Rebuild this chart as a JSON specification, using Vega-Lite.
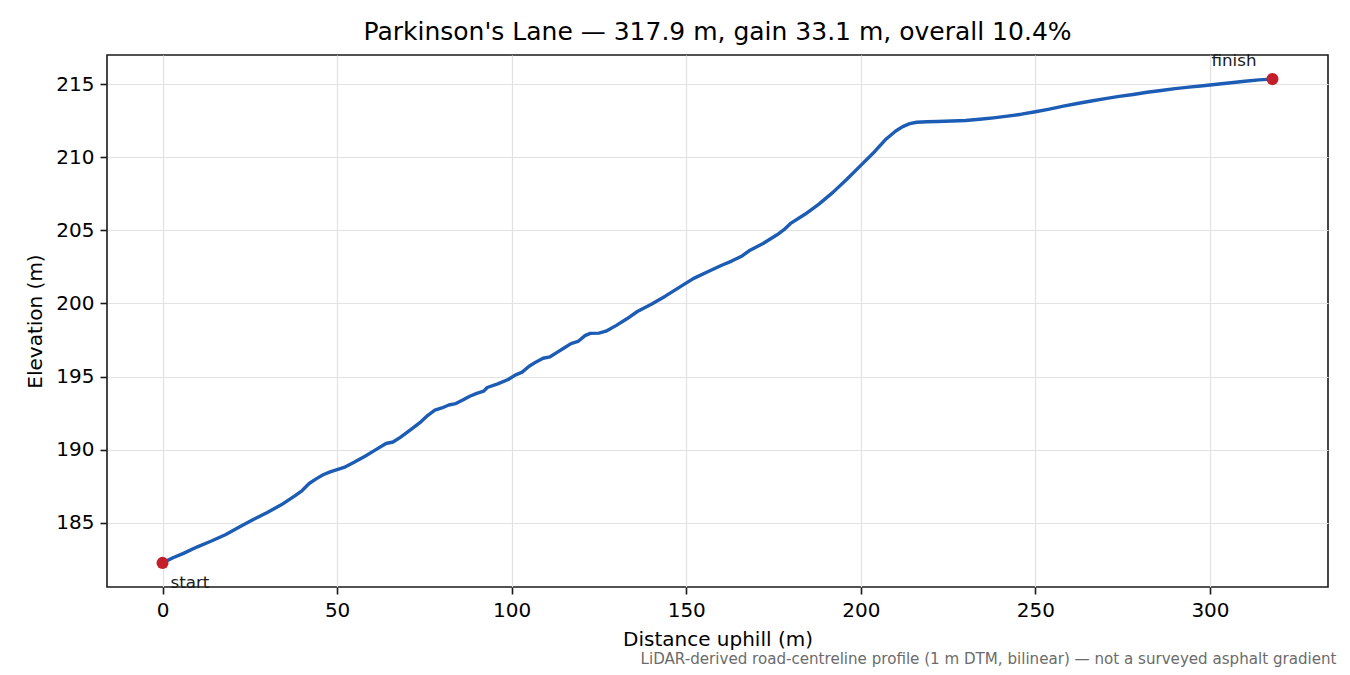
{
  "$schema": "https://vega.github.io/schema/vega-lite/v6.json",
  "autosize": {"type": "none"},
  "width": 1221,
  "height": 532,
  "padding": {"left": 107, "top": 55, "right": 22, "bottom": 88},
  "background": "white",
  "title": {
    "text": "Parkinson's Lane — 317.9 m, gain 33.1 m, overall 10.4%",
    "fontSize": 25,
    "fontWeight": "normal",
    "font": "DejaVu Sans",
    "color": "black",
    "anchor": "middle",
    "offset": 8
  },
  "datasets": {
    "profile": [
      {"d": 0, "e": 182.25}, {"d": 3, "e": 182.6}, {"d": 6, "e": 182.9},
      {"d": 10, "e": 183.35}, {"d": 14, "e": 183.75}, {"d": 18, "e": 184.18},
      {"d": 22, "e": 184.7}, {"d": 26, "e": 185.22}, {"d": 30, "e": 185.7},
      {"d": 34, "e": 186.22}, {"d": 38, "e": 186.85}, {"d": 40, "e": 187.2},
      {"d": 42, "e": 187.68}, {"d": 44, "e": 188.0}, {"d": 46, "e": 188.28},
      {"d": 48, "e": 188.48}, {"d": 50, "e": 188.63}, {"d": 52, "e": 188.78},
      {"d": 55, "e": 189.15}, {"d": 58, "e": 189.55}, {"d": 61, "e": 189.98},
      {"d": 64, "e": 190.42}, {"d": 66, "e": 190.52}, {"d": 68, "e": 190.82},
      {"d": 71, "e": 191.35}, {"d": 74, "e": 191.9}, {"d": 76, "e": 192.35},
      {"d": 78, "e": 192.7}, {"d": 80, "e": 192.85}, {"d": 82, "e": 193.05},
      {"d": 84, "e": 193.15}, {"d": 86, "e": 193.4}, {"d": 88, "e": 193.65},
      {"d": 90, "e": 193.85}, {"d": 92, "e": 194.0}, {"d": 93, "e": 194.25},
      {"d": 96, "e": 194.5}, {"d": 99, "e": 194.8}, {"d": 101, "e": 195.1},
      {"d": 103, "e": 195.3}, {"d": 105, "e": 195.7}, {"d": 107, "e": 196.0},
      {"d": 109, "e": 196.25}, {"d": 111, "e": 196.35}, {"d": 113, "e": 196.65},
      {"d": 115, "e": 196.95}, {"d": 117, "e": 197.25}, {"d": 119, "e": 197.4},
      {"d": 121, "e": 197.8}, {"d": 122.5, "e": 197.95}, {"d": 125, "e": 197.97},
      {"d": 127, "e": 198.1}, {"d": 130, "e": 198.5}, {"d": 133, "e": 198.95},
      {"d": 136, "e": 199.45}, {"d": 140, "e": 199.95}, {"d": 144, "e": 200.5},
      {"d": 148, "e": 201.1}, {"d": 152, "e": 201.7}, {"d": 156, "e": 202.15},
      {"d": 160, "e": 202.6}, {"d": 163, "e": 202.9}, {"d": 166, "e": 203.25},
      {"d": 168, "e": 203.6}, {"d": 172, "e": 204.1}, {"d": 176, "e": 204.7},
      {"d": 178, "e": 205.05}, {"d": 180, "e": 205.5}, {"d": 184, "e": 206.1},
      {"d": 188, "e": 206.8}, {"d": 192, "e": 207.6}, {"d": 196, "e": 208.5},
      {"d": 200, "e": 209.45}, {"d": 204, "e": 210.4}, {"d": 207, "e": 211.2},
      {"d": 210, "e": 211.8}, {"d": 212, "e": 212.1}, {"d": 214, "e": 212.3},
      {"d": 216, "e": 212.4}, {"d": 219, "e": 212.43}, {"d": 222, "e": 212.45},
      {"d": 226, "e": 212.48}, {"d": 230, "e": 212.52}, {"d": 234, "e": 212.6},
      {"d": 238, "e": 212.7}, {"d": 242, "e": 212.82}, {"d": 246, "e": 212.95},
      {"d": 250, "e": 213.12}, {"d": 254, "e": 213.3}, {"d": 258, "e": 213.5},
      {"d": 262, "e": 213.68}, {"d": 266, "e": 213.85}, {"d": 270, "e": 214.02},
      {"d": 274, "e": 214.17}, {"d": 278, "e": 214.3}, {"d": 282, "e": 214.45},
      {"d": 286, "e": 214.57}, {"d": 290, "e": 214.7}, {"d": 294, "e": 214.8},
      {"d": 298, "e": 214.9}, {"d": 302, "e": 215.0}, {"d": 306, "e": 215.1},
      {"d": 310, "e": 215.2}, {"d": 314, "e": 215.3}, {"d": 317.9, "e": 215.35}
    ],
    "ends": [
      {"d": 0, "e": 182.25, "label": "start"},
      {"d": 317.9, "e": 215.35, "label": "finish"}
    ]
  },
  "layer": [
    {
      "data": {"name": "profile"},
      "mark": {"type": "line", "color": "#1c5cb4", "strokeWidth": 3.4, "strokeJoin": "round"},
      "encoding": {
        "x": {
          "field": "d",
          "type": "quantitative",
          "scale": {"domain": [-15.9, 333.8], "nice": false, "zero": false},
          "axis": {
            "orient": "bottom",
            "title": "Distance uphill (m)",
            "values": [0, 50, 100, 150, 200, 250, 300],
            "titlePadding": 9
          }
        },
        "y": {
          "field": "e",
          "type": "quantitative",
          "scale": {"domain": [180.6, 217.0], "nice": false, "zero": false},
          "axis": {
            "title": "Elevation (m)",
            "values": [185, 190, 195, 200, 205, 210, 215],
            "titlePadding": 10
          }
        }
      }
    },
    {
      "data": {"name": "ends"},
      "mark": {"type": "point", "filled": true, "color": "#c41e2b", "size": 145, "opacity": 1},
      "encoding": {
        "x": {
          "field": "d",
          "type": "quantitative",
          "axis": {
            "orient": "bottom",
            "title": "LiDAR-derived road-centreline profile (1 m DTM, bilinear) — not a surveyed asphalt gradient",
            "labels": false,
            "ticks": false,
            "domain": false,
            "grid": false,
            "titleFontSize": 15.1,
            "titleColor": "#6b6b6b",
            "titleAlign": "right",
            "titleAnchor": "end",
            "titleBaseline": "alphabetic",
            "titleX": 1229,
            "titleY": 76
          }
        },
        "y": {"field": "e", "type": "quantitative"}
      }
    },
    {
      "data": {"name": "ends"},
      "transform": [{"filter": "datum.label === 'start'"}],
      "mark": {"type": "text", "align": "left", "baseline": "alphabetic", "dx": 8, "dy": 25, "fontSize": 16.7, "color": "#1a1a1a"},
      "encoding": {
        "x": {"field": "d", "type": "quantitative", "axis": null},
        "y": {"field": "e", "type": "quantitative"},
        "text": {"field": "label"}
      }
    },
    {
      "data": {"name": "ends"},
      "transform": [{"filter": "datum.label === 'finish'"}],
      "mark": {"type": "text", "align": "right", "baseline": "alphabetic", "dx": -16, "dy": -13, "fontSize": 16.7, "color": "#1a1a1a"},
      "encoding": {
        "x": {"field": "d", "type": "quantitative", "axis": null},
        "y": {"field": "e", "type": "quantitative"},
        "text": {"field": "label"}
      }
    }
  ],
  "resolve": {"axis": {"x": "independent"}},
  "config": {
    "font": "DejaVu Sans",
    "view": {"stroke": "#1a1a1a", "strokeWidth": 1.6},
    "axis": {
      "domain": false,
      "grid": true,
      "gridColor": "#e2e2e2",
      "gridWidth": 1.2,
      "ticks": true,
      "tickColor": "#1a1a1a",
      "tickSize": 7,
      "tickWidth": 1.6,
      "labelFontSize": 20,
      "labelColor": "black",
      "labelPadding": 6,
      "labelFont": "DejaVu Sans",
      "titleFont": "DejaVu Sans",
      "titleFontSize": 20,
      "titleFontWeight": "normal",
      "titleColor": "black"
    },
    "text": {"font": "DejaVu Sans"}
  }
}
